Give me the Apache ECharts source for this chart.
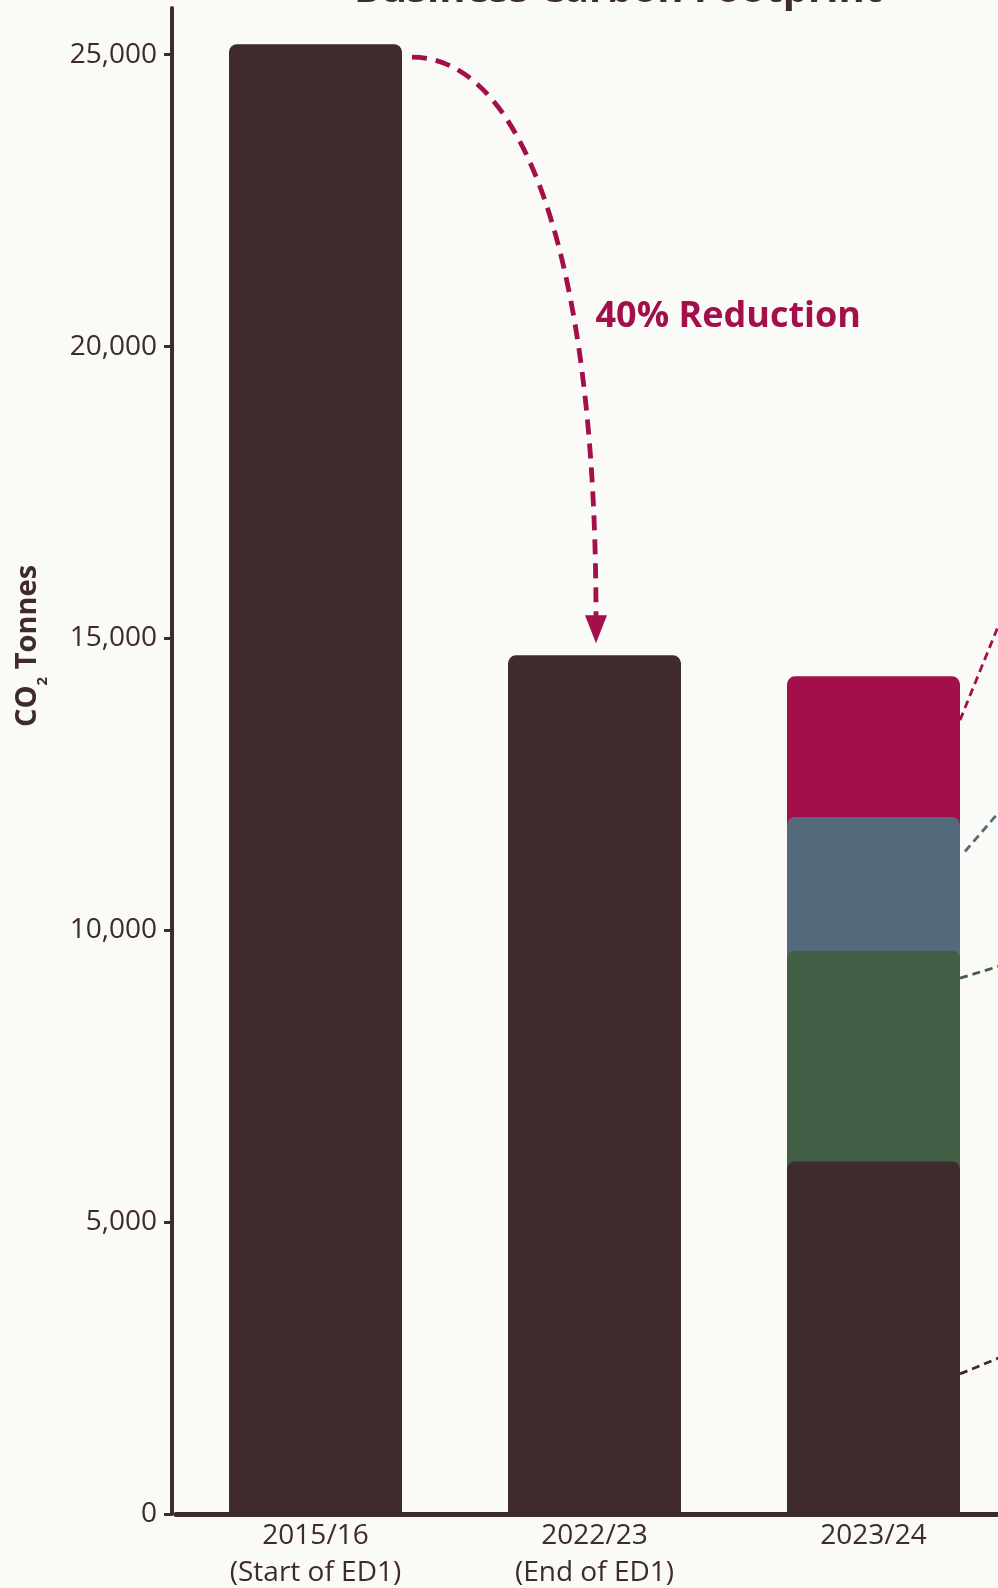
<!DOCTYPE html>
<html><head><meta charset="utf-8">
<script src="https://cdn.jsdelivr.net/npm/echarts@6/dist/echarts.min.js"></script>
<style>html,body{margin:0;padding:0;background:#fafaf6;} #main{width:998px;height:1588px;}</style>
</head><body><div id="main"></div>
<script>
// ---- data ----
const categories = ['2015/16\n(Start of ED1)', '2022/23\n(End of ED1)', '2023/24'];
const coreValues  = [25180, 14710, 6040];   // dark segment / whole bar
const greenValues = [null, null, 3610];
const blueValues  = [null, null, 2290];
const redValues   = [null, null, 2410];
const yTickValues = [0, 5000, 10000, 15000, 20000, 25000];
const titleText = 'Business Carbon Footprint';
const reductionText = '40% Reduction';
// leader-line anchor values on the 2023/24 bar: red, blue, green, dark
const leaderAnchors = [13600, 11350, 9180, 2400];

// ---- styles ----
const C_DARK = '#3f2a2d', C_RED = '#a30f4a', C_BLUE = '#546a7a', C_GREEN = '#425e44';
const FONT = '"Open Sans", "Noto Sans", sans-serif';

// cumulative tops for overlapping (front-to-back) bars
const cum = (a, b) => a.map((v, i) => (v == null || b[i] == null) ? null : v + b[i]);
const greenTop = cum(coreValues, greenValues);
const blueTop = cum(greenTop, blueValues);
const redTop = cum(blueTop, redValues);

const chart = echarts.init(document.getElementById('main'), null, {renderer: 'canvas'});
const BAR_W = 173;
const barStyle = (c) => ({color: c, borderRadius: [8, 8, 0, 0]});

chart.setOption({
  backgroundColor: '#fafaf6',
  animation: false,
  grid: {left: 176, right: -15, top: 8, bottom: 74, containLabel: false, outerBoundsMode: 'none'},
  xAxis: {
    type: 'category', data: categories,
    axisLine: {show: true, lineStyle: {color: C_DARK, width: 5}},
    axisTick: {show: false},
    axisLabel: {color: C_DARK, fontFamily: FONT, fontSize: 28, lineHeight: 37, margin: 4},
    splitLine: {show: false}
  },
  yAxis: {
    type: 'value', min: 0, max: 25800, interval: 5000, offset: 4,
    axisLine: {show: true, lineStyle: {color: C_DARK, width: 4}},
    axisTick: {show: true, length: 8, lineStyle: {color: C_DARK, width: 3}},
    axisLabel: {
      color: C_DARK, fontFamily: FONT, fontSize: 28, margin: 15, padding: [8, 0, 0, 0],
      showMaxLabel: false,
      formatter: (v) => yTickValues.indexOf(v) >= 0 ? v.toLocaleString('en-US') : ''
    },
    splitLine: {show: false}
  },
  series: [
    {name: 'Red segment', type: 'bar', data: redTop, barWidth: BAR_W, barGap: '-100%', itemStyle: barStyle(C_RED)},
    {name: 'Blue segment', type: 'bar', data: blueTop, barWidth: BAR_W, barGap: '-100%', itemStyle: barStyle(C_BLUE)},
    {name: 'Green segment', type: 'bar', data: greenTop, barWidth: BAR_W, barGap: '-100%', itemStyle: barStyle(C_GREEN)},
    {name: 'Core', type: 'bar', data: coreValues, barWidth: BAR_W, barGap: '-100%', itemStyle: barStyle(C_DARK)}
  ]
});

// ---- annotations positioned from the chart's own scales ----
const px = (i) => chart.convertToPixel({xAxisIndex: 0}, i);
const py = (v) => chart.convertToPixel({yAxisIndex: 0}, v);

const x0 = px(0), x1 = px(1), x2 = px(2);
const sx = x0 + BAR_W / 2 + 10, sy = py(coreValues[0]) + 13;
const tipX = x1 + 1.5, tipY = py(coreValues[1]) - 12;
const headH = 28, headW = 22;
const ex = tipX, ey = tipY - headH + 2;

const leaderColors = [C_RED, C_BLUE, C_GREEN, C_DARK];
const leaderSlopes = [-2.46, -1.16, -0.305, -0.41];
const leaderDx = [0, 5, 0, 0];
const graphics = [];
leaderAnchors.forEach((v, k) => {
  const lx = x2 + BAR_W / 2 + leaderDx[k], ly = py(v);
  const endX = 1010;
  graphics.push({type: 'line', shape: {x1: lx, y1: ly, x2: endX, y2: ly + (endX - lx) * leaderSlopes[k]},
    style: {stroke: leaderColors[k], lineWidth: 2.8, lineDash: [8, 5]}, z: 5});
});

graphics.push({type: 'bezierCurve', shape: {x1: sx, y1: sy, cpx1: sx + 108, cpy1: sy, cpx2: ex, cpy2: sy + 192, x2: ex, y2: ey},
  style: {stroke: C_RED, lineWidth: 4.8, lineDash: [15, 9], fill: null}, z: 5});
graphics.push({type: 'polygon', shape: {points: [[tipX, tipY], [tipX - headW / 2, tipY - headH], [tipX + headW / 2, tipY - headH]]},
  style: {fill: C_RED}, z: 5});
graphics.push({type: 'text', x: x1 + 1, y: sy + 260,
  style: {text: reductionText, fill: C_RED, font: 'bold 36px ' + FONT, textAlign: 'left', textVerticalAlign: 'middle'}, z: 6});

// title (cropped at top of picture)
graphics.push({type: 'text', x: 618, y: -9,
  style: {text: titleText, fill: C_DARK, font: 'bold 40px ' + FONT, textAlign: 'center', textVerticalAlign: 'middle'}, z: 6});

// y axis name with subscript
graphics.push({type: 'text', x: 28, y: 646, rotation: Math.PI / 2,
  style: {
    text: '{a|CO}{s|2}{a| Tonnes}', textAlign: 'center', textVerticalAlign: 'middle',
    rich: {
      a: {fontFamily: FONT, fontWeight: 'bold', fontSize: 29, lineHeight: 44, fill: C_DARK, verticalAlign: 'middle'},
      s: {fontFamily: FONT, fontWeight: 'bold', fontSize: 15, lineHeight: 15, fill: C_DARK, verticalAlign: 'bottom'}
    }
  }, z: 6});

chart.setOption({graphic: graphics});
</script></body></html>
